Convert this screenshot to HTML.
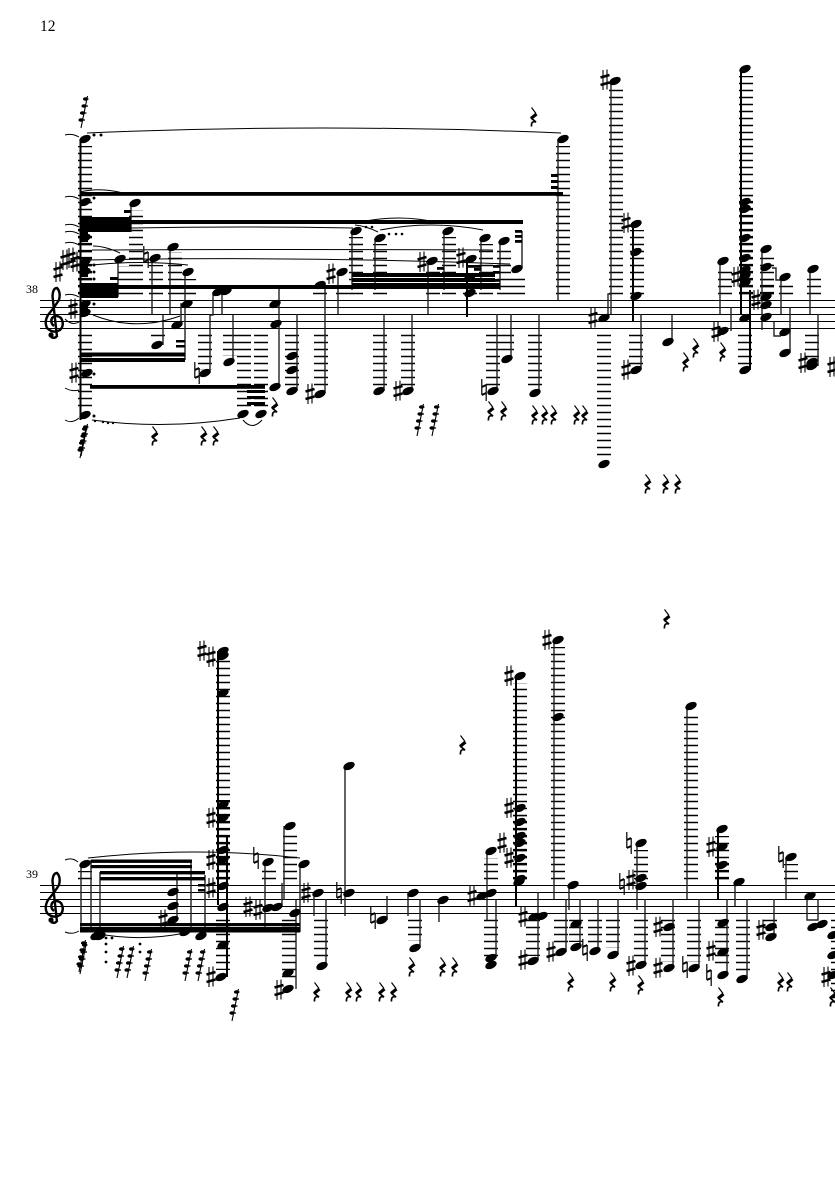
<!DOCTYPE html>
<html><head><meta charset="utf-8"><style>
html,body{margin:0;padding:0;background:#fff}
svg{display:block}
.l{stroke:#000;stroke-width:14;stroke-dasharray:1.6 5.4;fill:none}
.l2{stroke:#000;stroke-width:14;stroke-dasharray:2.4 4.6;fill:none}
.s{stroke:#222;stroke-width:1.4;fill:none}
.c{stroke:#000;stroke-width:1;fill:none}
text{font-family:"Liberation Serif",serif;fill:#000}
</style></head><body>
<svg xmlns="http://www.w3.org/2000/svg" width="835" height="1181" viewBox="0 0 835 1181">
<defs>
<ellipse id="n" rx="6" ry="3.700" transform="rotate(-24)"/>
<g id="h" stroke="#000" fill="none"><path d="M-2 -10V10M2 -10.500V9.500" stroke-width="1.100"/><path d="M-4.500 -2.500L4.500 -5M-4.500 5L4.500 2.500" stroke-width="2.600"/></g>
<g id="a" stroke="#000" fill="none"><path d="M-2.200 -11V5M2.200 -5V11" stroke-width="1.200"/><path d="M-2.200 -3L2.200 -5M-2.200 5L2.200 3" stroke-width="2"/></g>
<g id="r" fill="none" stroke="#000"><path d="M-1.500 -9.500L3 -3.500" stroke-width="1.200"/><path d="M3.500 -3L-2 1.500" stroke-width="3.200"/><path d="M-2 1L3 5Q-2 3.500 -1.500 9.500" stroke-width="1.700"/></g>
<g id="g"><path d="M-3 16L3.500 -16" stroke="#000" stroke-width="1.100"/><ellipse cx="-3" cy="8" rx="2.600" ry="1.800"/><ellipse cx="-1.500" cy="1" rx="2.600" ry="1.800"/><ellipse cx="0" cy="-6" rx="2.600" ry="1.800"/><ellipse cx="1.500" cy="-13" rx="2.600" ry="1.800"/><path d="M-1 8h2M.5 1h2M2 -6h2M3.500 -13h1" stroke="#000" stroke-width="1.200"/></g>
<g id="k"><path d="M57 336Q55 339 51 337M57 337L52.500 296Q53 288 57 288Q61 292 59 300Q54 308 48 315Q44 322 47 328Q53 334 60 330Q65 325 61 318Q56 314 52 318Q50 323 54 326" fill="none" stroke="#000" stroke-width="2.400"/><circle cx="51" cy="335" r="2.600"/></g>
</defs>
<rect width="835" height="1181" fill="#fff"/>
<text x="40" y="31" font-size="15.500">12</text>
<text x="26" y="293" font-size="12">38</text>
<text x="26" y="878" font-size="12">39</text>

<!-- staves -->
<path d="M40 300.500H835M40 307.500H835M40 314.500H835M40 321.500H835M40 328.500H835M40 885.500H835M40 892.500H835M40 899.500H835M40 906.500H835M40 913.500H835" stroke="#000" stroke-width="1.100"/>
<use href="#k"/><use href="#k" y="585"/>
<use href="#h" x="73" y="309"/>

<!-- system 1 ledgers -->
<path class="l" d="M85 294.300V146M136 294.300V210M125 294.300V266M156 294.300V265M175 294.300V252M189 294.300V279M356 294.300V237M380 294.300V244M433 294.300V269M449 294.300V237M486 294.300V244M504 294.300V247M518 294.300V274M563 294.300V146M616 294.300V88M637 294.300V230M725 294.300V268M746 294.300V76M767 294.300V256M786 294.300V284M814 294.300V276M320 294.300V290M343 294.300V290M470 294.300V290"/>
<path class="l" d="M85 334.700V410M158 334.700V339M205 334.700V370M230 334.700V356M244 334.700V410M261 334.700V410M292 334.700V386M321 334.700V390M380 334.700V386M408 334.700V386M493 334.700V386M507 334.700V352M535 334.700V390M604 334.700V458M636 334.700V365M745 334.700V365M812 334.700V360"/>
<path class="l2" d="M746 294.300V196M85 294.300V225M767 294.300V280"/>

<!-- system 2 ledgers -->
<path class="l" d="M85 879.300V871M223 879.300V658M269 879.300V868M290 879.300V833M491 879.300V858M520 879.300V683M558 879.300V647M641 879.300V850M691 879.300V713M722 879.300V836M791 879.300V864"/>
<path class="l" d="M223 919.700V970M289 919.700V982M321 919.700V960M415 919.700V941M491 919.700V958M533 919.700V956M561 919.700V945M576 919.700V942M595 919.700V945M613 919.700V948M641 919.700V960M668 919.700V962M694 919.700V962M722 919.700V968M743 919.700V972M770 919.700V934M838 919.700V1000"/>
<path class="l2" d="M223 879.300V800M520 879.300V815M722 879.300V860"/>

<!-- stems system 1 -->
<path class="s" d="M118 259V297M131 203V232M152 258V314M170 247V314M185 272V360M181 325V303M163 345V315M210 373V315H213V292M222 291V315M233 315V362M279 287V387M297 314V391M325 283V393M338 272V314M352 231V290M375 238V290M384 314V391M412 314V391M428 261V314M444 231V290M481 238V290M500 241V290M522 231V268M497 314V391M511 314V359M539 314V393M558 139V300M611 81V314M608 314V294H611M641 314V370M672 314V342M731 307V331M720 261V314M762 249V330M781 277V314M772 268H776V280H781M790 307V353M774 322V336H781M810 269V314M818 314V366"/>
<path d="M80.500 139V420M467 259V317M633 224V321M741 69V314M750 290V370" stroke="#000" stroke-width="2" fill="none"/>

<!-- beams system 1 -->
<g fill="#000">
<rect x="80" y="192" width="483" height="3.800"/>
<rect x="80" y="217" width="51" height="15"/>
<rect x="131" y="220" width="392" height="4"/>
<rect x="80" y="283" width="38" height="15"/>
<rect x="118" y="285" width="382" height="4"/>
<rect x="80" y="352.500" width="105" height="4"/>
<rect x="80" y="358" width="105" height="4"/>
<rect x="90" y="385" width="175" height="3.800"/>
<rect x="247" y="390" width="18" height="3"/>
<rect x="247" y="396" width="18" height="3"/>
<rect x="247" y="402" width="18" height="3"/>
<rect x="176" y="340" width="9" height="2.500"/>
<rect x="176" y="345" width="9" height="2.500"/>
<rect x="124" y="210" width="7" height="3"/>
<rect x="110" y="277" width="8" height="3"/>
<rect x="352" y="273" width="143" height="4"/>
<rect x="352" y="278" width="143" height="4"/>
<rect x="352" y="283" width="148" height="3"/>
<rect x="467" y="265" width="14" height="2.800"/>
<rect x="437" y="267" width="7" height="2.800"/>
<rect x="474" y="268" width="7" height="2.800"/>
<rect x="493" y="265" width="7" height="2.800"/>
<rect x="493" y="271" width="7" height="2.800"/>
<rect x="493" y="279" width="7" height="2.800"/>
<rect x="515" y="230" width="7" height="2.800"/>
<rect x="515" y="235" width="7" height="2.800"/>
<rect x="515" y="240" width="7" height="2.800"/>
<rect x="551" y="174" width="7" height="3"/>
<rect x="551" y="180" width="7" height="3"/>
<rect x="551" y="186" width="7" height="3"/>
<rect x="81" y="228" width="7" height="14"/>
<rect x="81" y="260" width="7" height="17"/>
<rect x="81" y="302" width="7" height="14"/>
</g>

<!-- notes system 1 -->
<g>
<use href="#n" x="85" y="139"/><use href="#n" x="85" y="202"/><use href="#n" x="85" y="228"/><use href="#n" x="85" y="238"/><use href="#n" x="85" y="262"/><use href="#n" x="85" y="272"/><use href="#n" x="85" y="304"/><use href="#n" x="85" y="313"/><use href="#n" x="87" y="373"/><use href="#n" x="85" y="415"/>
<use href="#n" x="120" y="259"/><use href="#n" x="135" y="203"/><use href="#n" x="155" y="258"/><use href="#n" x="173" y="247"/><use href="#n" x="188" y="272"/><use href="#n" x="187" y="304"/><use href="#n" x="177" y="325"/><use href="#n" x="157" y="345"/><use href="#n" x="218" y="292"/><use href="#n" x="226" y="291"/><use href="#n" x="205" y="373"/><use href="#n" x="229" y="362"/>
<use href="#n" x="275" y="304"/><use href="#n" x="276" y="324"/><use href="#n" x="275" y="387"/><use href="#n" x="243" y="414"/><use href="#n" x="261" y="414"/><use href="#n" x="292" y="356"/><use href="#n" x="292" y="370"/><use href="#n" x="292" y="391"/>
<use href="#n" x="320" y="285"/><use href="#n" x="320" y="394"/><use href="#n" x="342" y="272"/><use href="#n" x="356" y="231"/><use href="#n" x="380" y="238"/><use href="#n" x="379" y="391"/><use href="#n" x="408" y="391"/><use href="#n" x="432" y="261"/><use href="#n" x="448" y="231"/><use href="#n" x="471" y="259"/><use href="#n" x="470" y="277"/><use href="#n" x="470" y="293"/><use href="#n" x="485" y="238"/><use href="#n" x="504" y="241"/><use href="#n" x="517" y="269"/><use href="#n" x="493" y="391"/><use href="#n" x="507" y="359"/><use href="#n" x="535" y="393"/>
<use href="#n" x="563" y="139"/><use href="#n" x="615" y="81"/><use href="#n" x="604" y="318"/><use href="#n" x="604" y="464"/><use href="#n" x="636" y="224"/><use href="#n" x="636" y="252"/><use href="#n" x="636" y="296"/><use href="#n" x="636" y="370"/><use href="#n" x="668" y="342"/><use href="#n" x="723" y="331"/><use href="#n" x="723" y="261"/>
<use href="#n" x="745" y="69"/><use href="#n" x="745" y="202"/><use href="#n" x="745" y="209"/><use href="#n" x="745" y="238"/><use href="#n" x="745" y="258"/><use href="#n" x="745" y="270"/><use href="#n" x="745" y="276"/><use href="#n" x="745" y="283"/><use href="#n" x="745" y="318"/><use href="#n" x="745" y="370"/>
<use href="#n" x="766" y="249"/><use href="#n" x="766" y="267"/><use href="#n" x="766" y="297"/><use href="#n" x="766" y="305"/><use href="#n" x="766" y="317"/><use href="#n" x="785" y="277"/><use href="#n" x="785" y="332"/><use href="#n" x="785" y="353"/><use href="#n" x="813" y="269"/><use href="#n" x="812" y="362"/><use href="#n" x="812" y="366"/>
</g>

<!-- accidentals system 1 -->
<g>
<use href="#h" x="58" y="272"/><use href="#h" x="65" y="260"/><use href="#h" x="71" y="258"/><use href="#h" x="75" y="262"/><use href="#h" x="74" y="373"/><use href="#a" x="146" y="257"/><use href="#a" x="197" y="373"/><use href="#h" x="310" y="394"/><use href="#h" x="331" y="274"/><use href="#h" x="398" y="391"/><use href="#h" x="422" y="262"/><use href="#h" x="461" y="258"/><use href="#a" x="484" y="390"/><use href="#h" x="605" y="80"/><use href="#h" x="593" y="318"/><use href="#h" x="626" y="223"/><use href="#h" x="626" y="370"/><use href="#h" x="716" y="332"/><use href="#h" x="736" y="277"/><use href="#h" x="756" y="300"/><use href="#h" x="803" y="363"/><use href="#h" x="832" y="367"/>
</g>

<!-- rests system 1 -->
<g>
<use href="#r" x="533" y="117"/><use href="#r" x="154" y="436"/><use href="#r" x="203" y="436"/><use href="#r" x="215" y="436"/><use href="#r" x="274" y="407"/><use href="#r" x="490" y="411"/><use href="#r" x="503" y="411"/><use href="#r" x="534" y="415"/><use href="#r" x="544" y="415"/><use href="#r" x="553" y="415"/><use href="#r" x="576" y="415"/><use href="#r" x="584" y="415"/><use href="#r" x="647" y="484"/><use href="#r" x="665" y="484"/><use href="#r" x="677" y="484"/><use href="#r" x="685" y="362"/><use href="#r" x="695" y="348"/><use href="#r" x="722" y="352"/>
</g>
<use href="#g" x="84" y="112"/><use href="#g" x="83" y="442"/><use href="#g" x="84" y="440"/><use href="#g" x="420" y="420"/><use href="#g" x="435" y="420"/>

<!-- slurs system 1 -->
<path class="c" d="M87 133Q320 123 561 133M65 135Q72 133 79 137M65 197Q72 195 79 199M65 225Q72 223 79 227M65 232Q72 230 79 234M65 243Q72 241 79 245M65 295Q72 293 79 297M65 319Q72 326 79 322M65 388Q72 392 79 390M65 420Q72 424 79 418M80 192Q100 187 123 193M131 228Q240 226 353 228M92 250Q290 249 493 250M90 260Q300 256 510 264M93 246Q105 246 120 253M92 265Q140 260 188 265M93 315Q135 332 180 316M355 225Q366 226 378 232M380 230Q431 220 483 230M357 223Q398 213 440 223M92 420Q165 430 240 418M243 420Q252 431 262 420"/>
<g fill="#000"><circle cx="94" cy="135" r="1.500"/><circle cx="101" cy="135" r="1.500"/><circle cx="94" cy="198" r="1.500"/><circle cx="94" cy="265" r="1.500"/><circle cx="94" cy="272" r="1.500"/><circle cx="94" cy="279" r="1.500"/><circle cx="94" cy="304" r="1.500"/><circle cx="94" cy="374" r="1.500"/><circle cx="94" cy="416" r="1.500"/><circle cx="95" cy="421" r="1.200"/><circle cx="103" cy="422" r="1.200"/><circle cx="108" cy="423" r="1.200"/><circle cx="113" cy="423" r="1.200"/><circle cx="366" cy="227" r="1.300"/><circle cx="372" cy="227" r="1.300"/><circle cx="389" cy="234" r="1.300"/><circle cx="396" cy="234" r="1.300"/><circle cx="402" cy="234" r="1.300"/></g>

<!-- stems system 2 -->
<path class="s" d="M81 864V932M91 860V930M100 872V932M177 873V920M191 862V932M205 875V936M265 862V932M284 826V900M282 883V905M300 864V932M296 900V989M314 893V916M326 899V965M345 765V916M387 896V920M408 893V916M420 899V948M439 900V922M487 851V920M496 899V958M538 892V960M554 640V899M569 885V910M566 899V952M580 899V947M598 899V951M618 899V955M637 843V910M645 899V965M673 899V968M687 706V899M699 899V968M727 899V975M735 882V906M747 899V979M774 899V937M786 857V899M807 896V920H818V899"/>
<path d="M218 651V905M227 835V977M516 676V906M718 829V899" stroke="#000" stroke-width="2" fill="none"/>

<!-- beams system 2 -->
<g fill="#000">
<rect x="91" y="859.500" width="101" height="3.400"/>
<rect x="91" y="865" width="101" height="3.200"/>
<rect x="100" y="871" width="105" height="3.400"/>
<rect x="100" y="877" width="105" height="3.400"/>
<rect x="80" y="923" width="220" height="3.200"/>
<rect x="80" y="927" width="220" height="3"/>
<rect x="80" y="930" width="220" height="2.500"/>
<rect x="198" y="884" width="7" height="2.500"/>
<rect x="198" y="889" width="7" height="2.500"/>
</g>

<!-- notes system 2 -->
<g>
<use href="#n" x="85" y="864"/><use href="#n" x="96" y="936"/><use href="#n" x="100" y="936"/><use href="#n" x="173" y="892"/><use href="#n" x="173" y="906"/><use href="#n" x="173" y="920"/><use href="#n" x="185" y="932"/><use href="#n" x="201" y="936"/>
<use href="#n" x="223" y="651"/><use href="#n" x="223" y="656"/><use href="#n" x="223" y="693"/><use href="#n" x="223" y="805"/><use href="#n" x="223" y="818"/><use href="#n" x="223" y="850"/><use href="#n" x="223" y="860"/><use href="#n" x="223" y="886"/><use href="#n" x="223" y="907"/><use href="#n" x="223" y="945"/><use href="#n" x="221" y="977"/>
<use href="#n" x="268" y="908"/><use href="#n" x="277" y="907"/><use href="#n" x="268" y="862"/><use href="#n" x="290" y="826"/><use href="#n" x="304" y="864"/><use href="#n" x="288" y="989"/><use href="#n" x="288" y="973"/><use href="#n" x="295" y="913"/>
<use href="#n" x="318" y="893"/><use href="#n" x="322" y="966"/><use href="#n" x="349" y="893"/><use href="#n" x="349" y="766"/><use href="#n" x="382" y="920"/><use href="#n" x="413" y="893"/><use href="#n" x="415" y="948"/><use href="#n" x="443" y="900"/>
<use href="#n" x="482" y="896"/><use href="#n" x="491" y="893"/><use href="#n" x="491" y="851"/><use href="#n" x="491" y="958"/><use href="#n" x="491" y="965"/>
<use href="#n" x="520" y="676"/><use href="#n" x="520" y="808"/><use href="#n" x="520" y="822"/><use href="#n" x="520" y="836"/><use href="#n" x="520" y="843"/><use href="#n" x="520" y="858"/><use href="#n" x="520" y="879"/><use href="#n" x="519" y="882"/>
<use href="#n" x="534" y="917"/><use href="#n" x="542" y="916"/><use href="#n" x="533" y="961"/><use href="#n" x="558" y="640"/><use href="#n" x="558" y="717"/><use href="#n" x="573" y="885"/><use href="#n" x="561" y="952"/><use href="#n" x="576" y="924"/><use href="#n" x="576" y="947"/><use href="#n" x="595" y="951"/><use href="#n" x="613" y="955"/>
<use href="#n" x="641" y="843"/><use href="#n" x="641" y="878"/><use href="#n" x="641" y="886"/><use href="#n" x="641" y="965"/><use href="#n" x="669" y="927"/><use href="#n" x="669" y="968"/><use href="#n" x="691" y="706"/><use href="#n" x="694" y="968"/>
<use href="#n" x="722" y="829"/><use href="#n" x="722" y="847"/><use href="#n" x="722" y="865"/><use href="#n" x="723" y="923"/><use href="#n" x="723" y="952"/><use href="#n" x="723" y="975"/><use href="#n" x="739" y="882"/><use href="#n" x="742" y="979"/><use href="#n" x="771" y="927"/><use href="#n" x="771" y="937"/><use href="#n" x="791" y="857"/><use href="#n" x="810" y="896"/><use href="#n" x="813" y="927"/><use href="#n" x="822" y="924"/><use href="#n" x="833" y="935"/><use href="#n" x="833" y="955"/><use href="#n" x="833" y="975"/>
</g>

<!-- accidentals system 2 -->
<g>
<use href="#h" x="163" y="920"/><use href="#h" x="211" y="888"/><use href="#h" x="202" y="651"/><use href="#h" x="211" y="657"/><use href="#h" x="211" y="818"/><use href="#h" x="211" y="860"/><use href="#h" x="211" y="977"/><use href="#h" x="248" y="907"/><use href="#h" x="258" y="910"/><use href="#a" x="256" y="858"/><use href="#h" x="279" y="990"/><use href="#h" x="306" y="893"/><use href="#a" x="339" y="893"/><use href="#a" x="373" y="918"/><use href="#h" x="472" y="896"/><use href="#h" x="502" y="843"/><use href="#h" x="509" y="676"/><use href="#h" x="509" y="808"/><use href="#h" x="509" y="858"/><use href="#h" x="523" y="917"/><use href="#h" x="523" y="960"/><use href="#h" x="547" y="640"/><use href="#h" x="551" y="952"/><use href="#a" x="585" y="950"/><use href="#a" x="629" y="843"/><use href="#h" x="631" y="880"/><use href="#a" x="622" y="884"/><use href="#h" x="631" y="966"/><use href="#h" x="658" y="927"/><use href="#h" x="658" y="968"/><use href="#a" x="685" y="967"/><use href="#h" x="711" y="847"/><use href="#h" x="711" y="951"/><use href="#a" x="709" y="975"/><use href="#h" x="761" y="930"/><use href="#a" x="781" y="857"/><use href="#h" x="826" y="977"/>
</g>

<!-- rests system 2 -->
<g>
<use href="#r" x="666" y="619"/><use href="#r" x="462" y="745"/><use href="#r" x="316" y="992"/><use href="#r" x="348" y="992"/><use href="#r" x="358" y="992"/><use href="#r" x="381" y="992"/><use href="#r" x="393" y="992"/><use href="#r" x="411" y="967"/><use href="#r" x="442" y="967"/><use href="#r" x="454" y="967"/><use href="#r" x="570" y="982"/><use href="#r" x="612" y="982"/><use href="#r" x="640" y="985"/><use href="#r" x="720" y="997"/><use href="#r" x="780" y="982"/><use href="#r" x="789" y="982"/><use href="#r" x="832" y="997"/>
</g>
<use href="#g" x="82" y="956"/><use href="#g" x="83" y="958"/><use href="#g" x="120" y="962"/><use href="#g" x="130" y="962"/><use href="#g" x="148" y="965"/><use href="#g" x="188" y="965"/><use href="#g" x="201" y="965"/><use href="#g" x="235" y="1005"/>

<!-- slurs system 2 -->
<path class="c" d="M88 858Q195 846 300 858M65 860Q72 857 78 862M65 932Q72 935 79 931M105 935Q145 941 185 933"/>
<g fill="#000"><circle cx="106" cy="938" r="1.400"/><circle cx="112" cy="938" r="1.400"/><circle cx="106" cy="944" r="1.400"/><circle cx="106" cy="952" r="1.400"/><circle cx="106" cy="962" r="1.400"/><circle cx="140" cy="944" r="1.400"/><circle cx="140" cy="952" r="1.400"/></g>
</svg>
</body></html>
